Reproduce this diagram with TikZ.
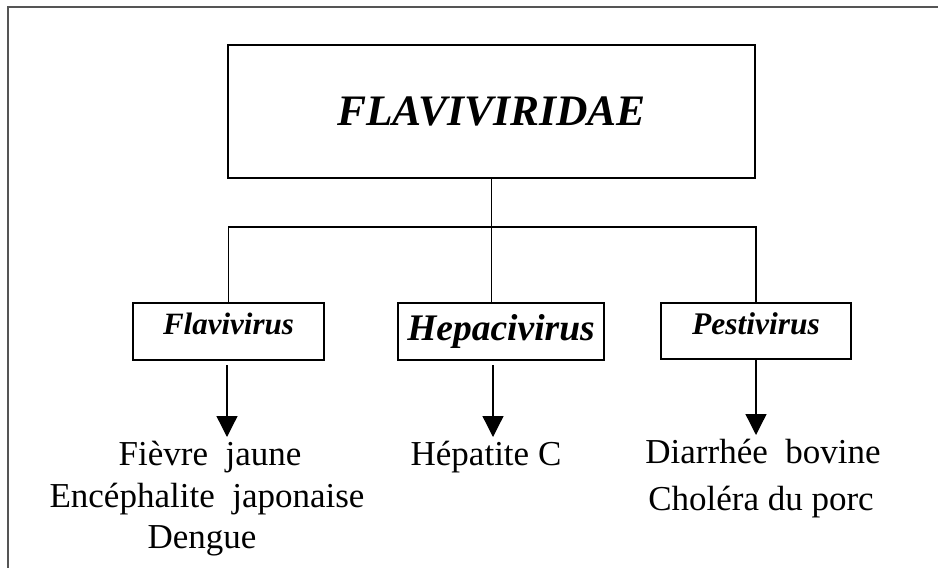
\documentclass[tikz,border=0pt]{standalone}
\usepackage{fontspec}
\setmainfont{Liberation Serif}
\newfontfamily\bodyf{Liberation Serif}
\newfontfamily\headf{Liberation Serif}
\usetikzlibrary{arrows.meta}
\definecolor{framegray}{HTML}{555555}
\newcommand{\wgap}{\hspace{0.5em}}
\tikzset{
  boxline/.style={draw=black, line width=1.6pt, inner sep=0pt},
  genus/.style={boxline, font=\headf\bfseries\itshape\fontsize{31}{36}\selectfont},
  conn/.style={line width=1.3pt},
  arr/.style={line width=1.3pt, -{Triangle[width=21pt,length=21pt]}},
  disease/.style={font=\bodyf\fontsize{35}{40}\selectfont, inner sep=0pt, anchor=base},
}
\begin{document}
\begin{tikzpicture}[x=1pt,y=-1pt]
\useasboundingbox (0,0) rectangle (938,568);
% frame (top and left edges only)
\draw[framegray, line width=2pt] (938,7) -- (8,7) -- (8,568);
% family box
\node[boxline, minimum width=527pt, minimum height=133pt,
      font=\headf\bfseries\itshape\fontsize{43.5}{50}\selectfont]
      (top) at (491.5,111.5) {FLAVIVIRIDAE};
% genus boxes
\node[genus, minimum width=191pt, text height=31pt, text depth=26pt] (F) at (228.5,331.5) {Flavivirus};
\node[genus, minimum width=206pt, text height=37pt, text depth=20pt,
      font=\headf\bfseries\itshape\fontsize{37.5}{44}\selectfont] (H) at (501,331.5) {Hepacivirus};
\node[genus, minimum width=190pt, text height=31pt, text depth=25pt,
      font=\headf\bfseries\itshape\fontsize{31.5}{36}\selectfont] (P) at (756,331) {Pestivirus};
% tree connectors
\coordinate (bar) at (491.5,227);
\draw[conn] (F.north) |- (bar) -| (P.north);
\draw[conn] (top.south) -- (top.south |- H.north);
% disease texts
\node[disease] (fj) at (210,465) {Fièvre\wgap jaune};
\node[disease] (ej) at (207,507) {Encéphalite\wgap japonaise};
\node[disease] (dg) at (202,548) {Dengue};
\node[disease] (hc) at (486,465) {Hépatite C};
\node[disease] (db) at (763,463) {Diarrhée\wgap bovine};
\node[disease] (cp) at (761,510) {Choléra du porc};
% arrows
\coordinate (fa) at (227,365);
\coordinate (fb) at (227,437);
\coordinate (ha) at (493,365);
\coordinate (hb) at (493,437);
\coordinate (pb) at (757,435);
\draw[arr] (fa) -- (fb);
\draw[arr] (ha) -- (hb);
\draw[arr] (P.south) -- (P.south |- pb);
\end{tikzpicture}
\end{document}
